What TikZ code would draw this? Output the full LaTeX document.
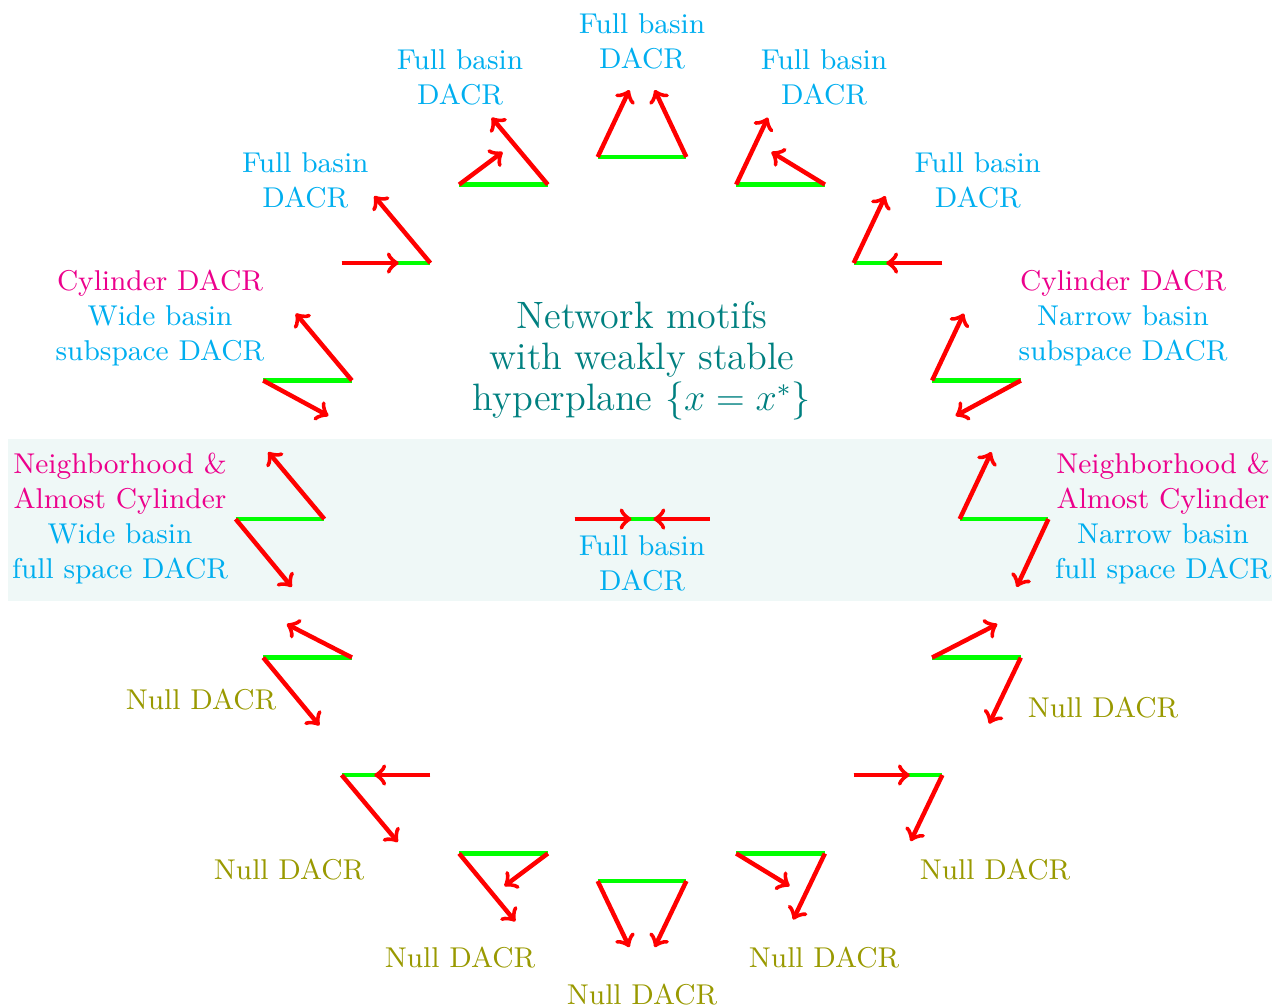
\documentclass[tikz,border=0pt]{standalone}
\usepackage{amsmath}
\usepackage{tikz}
\usetikzlibrary{arrows, calc, positioning}
\usepackage{xcolor}
\definecolor{basincol}{RGB}{0,174,239}
\definecolor{cylcol}{RGB}{236,0,140}
\definecolor{nullcol}{RGB}{153,153,0}
\definecolor{titlecol}{RGB}{0,128,128}
\definecolor{bandcol}{RGB}{239,248,247}
\tikzset{
	base/.style={draw=green, line width=1.4pt},
	flow/.style={draw=red, line width=1.4pt, ->},
	lab/.style={align=center, font=\small},
	full/.style={lab, text=basincol},
	null/.style={lab, text=nullcol}
}
% one motif: name, centre, half length of the hyperplane, arrow from left end, arrow from right end
\newcommand{\motif}[5]{%
	\coordinate (#1) at (#2);
	\coordinate (#1l) at ($(#1)+(-#3,0)$);
	\coordinate (#1r) at ($(#1)+(#3,0)$);
	\coordinate (#1lt) at ($(#1l)+(#4)$);
	\coordinate (#1rt) at ($(#1r)+(#5)$);
	\draw[base] (#1l) -- (#1r);
	\draw[flow] (#1l) -- (#1lt);
	\draw[flow] (#1r) -- (#1rt);
}

\begin{document}
\begin{tikzpicture}
	\useasboundingbox (-7.094,-5.370) rectangle (6.983,5.735);
	\fill[bandcol] (-7.006,-0.906) rectangle (6.96,0.884);
	
	\node[align=center, text=titlecol, font=\fontsize{12}{12.8}\selectfont] (title) at (0,1.75)
		{Network motifs\\with weakly stable\\hyperplane $\{x=x^*\}$};
	
	% upper half
	\motif{top}{90:4}{0.49}{0.35,0.74}{-0.35,0.74}
	\motif{ulb}{112.5:4}{0.49}{0.48,0.36}{-0.62,0.74}
	\motif{urb}{67.5:4}{0.49}{0.35,0.74}{-0.59,0.36}
	\motif{ulc}{135:4}{0.49}{0.63,0}{-0.62,0.74}
	\motif{urc}{45:4}{0.49}{0.35,0.74}{-0.62,0}
	\motif{uld}{157.5:4}{0.49}{0.72,-0.39}{-0.62,0.74}
	\motif{urd}{22.5:4}{0.49}{0.35,0.74}{-0.72,-0.39}
	% middle
	\motif{ml}{180:4}{0.49}{0.62,-0.75}{-0.62,0.74}
	\motif{mr}{0:4}{0.49}{0.35,0.74}{-0.35,-0.75}
	\motif{mc}{0,0}{0.746}{0.63,0}{-0.62,0}
	% lower half
	\motif{lld}{202.5:4}{0.49}{0.62,-0.75}{-0.72,0.37}
	\motif{lrd}{-22.5:4}{0.49}{0.72,0.37}{-0.35,-0.73}
	\motif{llc}{225:4}{0.49}{0.62,-0.74}{-0.62,0}
	\motif{lrc}{-45:4}{0.49}{0.62,0}{-0.35,-0.73}
	\motif{llb}{247.5:4}{0.49}{0.62,-0.75}{-0.48,-0.36}
	\motif{lrb}{-67.5:4}{0.49}{0.59,-0.36}{-0.35,-0.73}
	\motif{bot}{270:4}{0.49}{0.35,-0.73}{-0.35,-0.73}
	
	% labels
	\node[full] (toplab) at (0,5.28) {Full basin\\DACR};
	\node[full] (ulblab) at (-2.011,4.885) {Full basin\\DACR};
	\node[full] (urblab) at (2.011,4.885) {Full basin\\DACR};
	\node[full] (ulclab) at (-3.72,3.745) {Full basin\\DACR};
	\node[full] (urclab) at (3.71,3.745) {Full basin\\DACR};
	\node[full] (uldlab) at (-5.326,2.225) {{\color{cylcol}Cylinder DACR}\\Wide basin\\subspace DACR};
	\node[full] (urdlab) at (5.315,2.225) {{\color{cylcol}Cylinder DACR}\\Narrow basin\\subspace DACR};
	\node[full] (mllab) at (-5.768,0.01) {{\color{cylcol}Neighborhood \&}\\{\color{cylcol}Almost Cylinder}\\Wide basin\\full space DACR};
	\node[full] (mrlab) at (5.757,0.01) {{\color{cylcol}Neighborhood \&}\\{\color{cylcol}Almost Cylinder}\\Narrow basin\\full space DACR};
	\node[full] (mclab) at (0,-0.49) {Full basin\\DACR};
	
	\node[null] (lldlab) at (-4.873,-2.0) {Null DACR};
	\node[null] (lrdlab) at (5.094,-2.088) {Null DACR};
	\node[null] (llclab) at (-3.9,-3.878) {Null DACR};
	\node[null] (lrclab) at (3.9,-3.878) {Null DACR};
	\node[null] (llblab) at (-2.011,-4.84) {Null DACR};
	\node[null] (lrblab) at (2.011,-4.84) {Null DACR};
	\node[null] (botlab) at (0,-5.249) {Null DACR};
\end{tikzpicture}
\end{document}
